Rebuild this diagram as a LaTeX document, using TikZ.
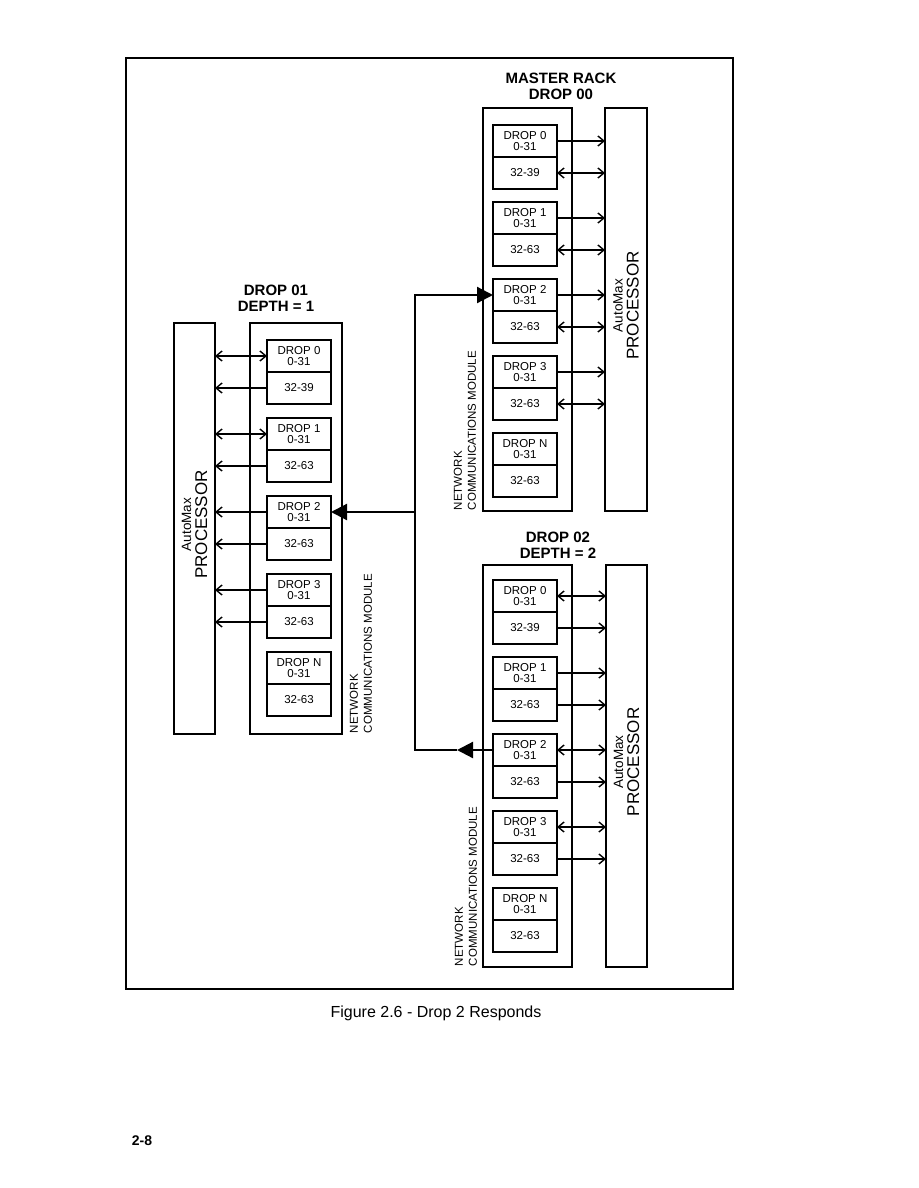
\documentclass[tikz,border=0pt]{standalone}
\usepackage{fontspec}
\setmainfont{Liberation Sans}
\usetikzlibrary{positioning,arrows.meta}

\begin{document}
\begin{tikzpicture}[
    x=1pt, y=-1pt,
    >={Straight Barb[length=6pt,width=10pt]},
    every node/.style={inner sep=0pt, outer sep=0pt},
    cell/.style={draw, line width=1.5pt, minimum width=64pt, minimum height=32pt,
        align=center, font=\fontsize{11.5}{11}\selectfont},
    rackbox/.style={draw, line width=1.5pt, anchor=north west},
    link/.style={line width=1.4pt},
    toproc/.style={->},
    twoway/.style={<->},
    sig/.style={line width=2.2pt},
    bigtip/.style={-{Triangle[length=16pt,width=16pt]}},
    title/.style={font=\fontsize{15}{16}\selectfont\bfseries, align=center, anchor=north},
    ncmtext/.style={rotate=90, anchor=south west, align=left, font=\fontsize{11.5}{14}\selectfont},
    proctext/.style={rotate=90, align=center, font=\fontsize{17}{16}\selectfont}
]
\useasboundingbox (0,0) rectangle (918,1188);
\draw[line width=1.6pt] (126,58) rectangle (733,989);

% master rack, drop 00
\node[rackbox, minimum width=89pt, minimum height=403pt] (mncm) at (483,108) {};
\node[rackbox, minimum width=42pt, minimum height=403pt] (mproc) at (605,108) {};
\node[title] (mtitle) at (561,73) {MASTER RACK\\DROP 00};
\foreach \d/\lo [count=\i from 0] in {0/32-39,1/32-63,2/32-63,3/32-63,N/32-63} {
    \node[cell, anchor=north west] (m\d u) at (493,125+77*\i) {DROP \d\\0-31};
    \node[cell, below=0pt of m\d u] (m\d l) {\lo};
}
\foreach \d/\ua/\la in {0/toproc/twoway,1/toproc/twoway,2/toproc/twoway,3/toproc/twoway} {
    \draw[link,\ua] (m\d u.east) -- (m\d u.east -| mproc.west);
    \draw[link,\la] (m\d l.east) -- (m\d l.east -| mproc.west);
}
\node[ncmtext] (mncmlabel) at (476,510) {NETWORK\\COMMUNICATIONS MODULE};
\node[proctext] (mproclabel) at ([yshift=4pt]mproc.center)
    {{\fontsize{13.5}{16}\selectfont AutoMax}\\PROCESSOR};

% drop 01, depth 1
\node[rackbox, minimum width=92pt, minimum height=411pt] (ancm) at (250,323) {};
\node[rackbox, minimum width=41pt, minimum height=411pt] (aproc) at (174,323) {};
\node[title] (atitle) at (276,285) {DROP 01\\DEPTH = 1};
\foreach \d/\lo [count=\i from 0] in {0/32-39,1/32-63,2/32-63,3/32-63,N/32-63} {
    \node[cell, anchor=north west] (a\d u) at (267,340+78*\i) {DROP \d\\0-31};
    \node[cell, below=0pt of a\d u] (a\d l) {\lo};
}
\foreach \d/\ua/\la in {0/twoway/toproc,1/twoway/toproc,2/toproc/toproc,3/toproc/toproc} {
    \draw[link,\ua] (a\d u.west) -- (a\d u.west -| aproc.east);
    \draw[link,\la] (a\d l.west) -- (a\d l.west -| aproc.east);
}
\node[ncmtext] (ancmlabel) at (372,733) {NETWORK\\COMMUNICATIONS MODULE};
\node[proctext] (aproclabel) at ([yshift=4pt]aproc.center)
    {{\fontsize{13.5}{16}\selectfont AutoMax}\\PROCESSOR};

% drop 02, depth 2
\node[rackbox, minimum width=89pt, minimum height=402pt] (bncm) at (483,565) {};
\node[rackbox, minimum width=41pt, minimum height=402pt] (bproc) at (606,565) {};
\node[title] (btitle) at (558,532) {DROP 02\\DEPTH = 2};
\foreach \d/\lo [count=\i from 0] in {0/32-39,1/32-63,2/32-63,3/32-63,N/32-63} {
    \node[cell, anchor=north west] (b\d u) at (493,580+77*\i) {DROP \d\\0-31};
    \node[cell, below=0pt of b\d u] (b\d l) {\lo};
}
\foreach \d/\ua/\la in {0/twoway/toproc,1/toproc/toproc,2/twoway/toproc,3/twoway/toproc} {
    \draw[link,\ua] (b\d u.east) -- (b\d u.east -| bproc.west);
    \draw[link,\la] (b\d l.east) -- (b\d l.east -| bproc.west);
}
\node[ncmtext] (bncmlabel) at (477,966) {NETWORK\\COMMUNICATIONS MODULE};
\node[proctext] (bproclabel) at ([yshift=4pt]bproc.center)
    {{\fontsize{13.5}{16}\selectfont AutoMax}\\PROCESSOR};

% drop 2 response path
\coordinate (bus) at (415,0);
\coordinate (tipx) at (457,0);
\draw[sig,bigtip] (b2u.west) -- (tipx |- b2u.west);
\draw[sig,bigtip] (tipx |- b2u.west) -- (bus |- b2u.west) -- (bus |- m2u.west) -- (m2u.west);
\draw[sig,bigtip] (bus |- a2u.east) -- (a2u.east);

\node[font=\fontsize{16}{19}\selectfont, anchor=base] (caption) at (436,1017) {Figure 2.6 - Drop 2 Responds};
\node[font=\fontsize{14}{17}\selectfont\bfseries, anchor=base] (pagenum) at (142,1145) {2-8};
\end{tikzpicture}
\end{document}
